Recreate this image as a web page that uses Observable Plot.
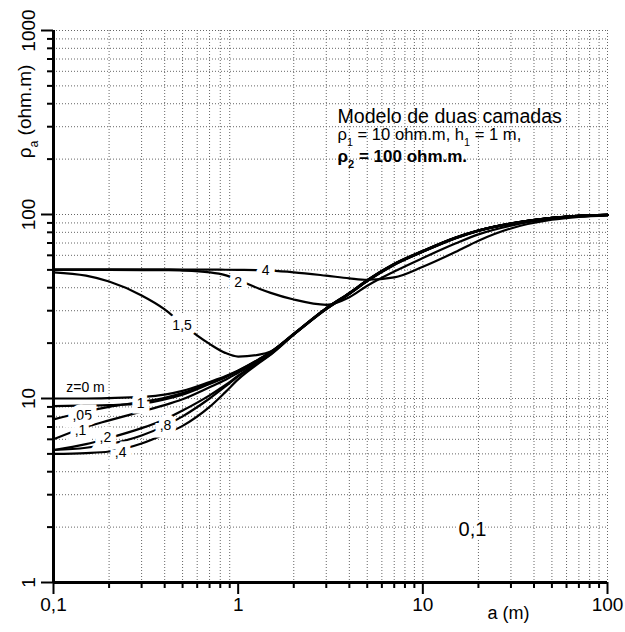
<!DOCTYPE html>
<html><head><meta charset="utf-8">
<script src="https://cdn.jsdelivr.net/npm/d3@7"></script>
<script src="https://cdn.jsdelivr.net/npm/@observablehq/plot@0.6"></script>
<style>body{margin:0;background:#fff;font-family:"Liberation Sans",Arial,sans-serif}</style>
</head><body><div id="chart"></div>
<script>
// electrode spacing a (m)
const a = [0.1,0.15,0.2,0.3,0.4,0.5,0.7,0.85,1,1.3,1.5,2,3,4,5,7,10,15,20,30,50,70,100];
// apparent resistivity (ohm.m) per burial depth z
const rho_z0   = [10,10,10.05,10.2,10.5,11,12.3,13.2,14.2,16.4,17.9,22.5,31,37.5,44,54,63.5,75,82,89.5,96,98.5,99.5];
const rho_z005 = [7.7,8.5,9.0,9.6,10.1,10.7,12.1,13.1,14.1,16.3,17.9,22.4,30.9,37.4,43.9,53.8,63.3,74.8,81.9,89.4,95.9,98.4,99.5];
const rho_z01  = [6.0,7.0,7.6,8.5,9.2,9.9,11.5,12.6,13.8,16.1,17.8,22.4,30.9,37.3,43.8,53.7,63.2,74.7,81.8,89.3,95.9,98.4,99.5];
const rho_z02  = [5.25,5.65,6.1,6.9,7.7,8.6,10.4,11.8,13.3,15.9,17.6,22.3,30.8,37.2,43.7,53.6,63.0,74.5,81.7,89.2,95.8,98.4,99.5];
const rho_z04  = [5.0,5.05,5.15,5.7,6.4,7.1,9.0,10.8,12.7,15.6,17.3,22.2,30.6,37.0,43.5,53.4,62.8,74.3,81.5,89.1,95.7,98.3,99.5];
const rho_z08  = [5.25,5.4,5.65,6.3,7.1,8.0,10.0,11.6,13.2,15.8,17.4,22.3,30.7,37.1,43.6,53.5,62.9,74.4,81.6,89.1,95.7,98.3,99.5];
const rho_z1   = [9.1,9.15,9.2,9.4,9.9,10.5,12.0,13.0,14.1,16.3,17.8,22.4,30.9,37.3,43.8,53.7,63.2,74.7,81.8,89.3,95.9,98.4,99.5];
const rho_z15  = [48.5,46.5,43.2,36.3,30.5,25.3,19.8,17.7,16.9,17.3,18.0,22.3,30.6,37.0,43.4,53.2,62.7,74.2,81.4,89.0,95.6,98.3,99.5];
const rho_z2   = [50,50,50,49.9,49.8,49.6,48.5,46.8,44.0,39.5,37.5,34.5,32.3,35.5,41,49,58,69.5,78,87,94.5,97.5,99];
const rho_z4   = [50.3,50.3,50.3,50.3,50.3,50.2,50.2,50.1,50,49.8,49.5,48.5,46.5,45,44.2,45.5,52,62.5,72,84,93.6,97,99];

const curveNames = ["0","0.05","0.1","0.2","0.4","0.8","1","1.5","2","4"];
const curveValues = [rho_z0,rho_z005,rho_z01,rho_z02,rho_z04,rho_z08,rho_z1,rho_z15,rho_z2,rho_z4];

// curve labels
const labelText = ["1",",05",",1",",2",",4",",8","1,5","2","4"];
const labelA    = [0.296,0.143,0.14,0.191,0.231,0.404,0.497,1.0,1.41];
const labelRho  = [9.36,8.08,6.7,6.16,5.11,7.14,24.9,42.9,49.6];
const z0Label = "z=0 m";
const z0LabelA = 0.149, z0LabelRho = 11.5;

// axes
const xMajor = [0.1,1,10,100];
const xMajorLabels = ["0,1","1","10","100"];
const yMajor = [1,10,100,1000];
const yMajorLabels = ["1","10","100","1000"];
const mult = [2,3,4,5,6,7,8,9];
const xMinor = [0.1,1,10].flatMap(d => mult.map(m => +(d*m).toPrecision(3)));
const yMinor = [1,10,100].flatMap(d => mult.map(m => d*m));

const xAxisTitle = "a (m)";
const yAxisTitle = "ρ_a (ohm.m)";
const noteLines = ["Modelo de duas camadas", "ρ_1 = 10 ohm.m, h_1 = 1 m,", "ρ_2 = 100 ohm.m."];
const caseLabel = "0,1";

const rows = curveNames.flatMap((n, i) => a.map((x, j) => ({curve: n, a: x, rho: curveValues[i][j]})));
const labels = labelText.map((t, i) => ({text: t, a: labelA[i], rho: labelRho[i]}));
const yTickRows = yMajor.map((v, i) => ({v, t: yMajorLabels[i]}));

const grid = {stroke: "#666", strokeWidth: 1, strokeDasharray: "1,2"};

const chart = Plot.plot({
  width: 625, height: 632,
  marginLeft: 53, marginRight: 18, marginTop: 30, marginBottom: 50,
  style: {fontFamily: "'Liberation Sans', Arial, sans-serif", background: "white", overflow: "visible"},
  x: {type: "log", domain: [0.1, 100]},
  y: {type: "log", domain: [1, 1000]},
  marks: [
    Plot.ruleX(xMinor.concat([10, 100]), grid),
    Plot.ruleY(yMinor.concat([10, 100, 1000]), grid),
    Plot.line(rows, {x: "a", y: "rho", z: "curve", stroke: "black", strokeWidth: 2.2, curve: "monotone-x"}),
    Plot.text(labels, {x: "a", y: "rho", text: "text", fontSize: 14, fill: "black", stroke: "white", strokeWidth: 11, strokeLinejoin: "miter", paintOrder: "stroke"}),
    Plot.text([z0Label], {x: () => z0LabelA, y: () => z0LabelRho, fontSize: 14, fill: "black"}),
    Plot.axisX({ticks: xMinor, tickSize: 6, tickFormat: () => "", strokeWidth: 2, label: null}),
    Plot.axisX({ticks: xMajor, tickSize: 12, tickFormat: d => xMajorLabels[xMajor.indexOf(d)], strokeWidth: 2, fontSize: 19, tickPadding: 3, label: null}),
    Plot.axisY({ticks: yMinor, tickSize: 6, tickFormat: () => "", strokeWidth: 2, label: null}),
    Plot.axisY({ticks: yMajor, tickSize: 12, tickFormat: () => "", strokeWidth: 2, label: null}),
    Plot.text(yTickRows, {x: () => 0.1, y: "v", text: "t", rotate: -90, dx: -25, fontSize: 19, textAnchor: "middle", lineAnchor: "middle"}),
    Plot.ruleX([0.1], {stroke: "black", strokeWidth: 3}),
    Plot.ruleY([1], {stroke: "black", strokeWidth: 3}),
    Plot.text([yAxisTitle], {frameAnchor: "top-left", dx: -29, dy: 81, rotate: -90, fontSize: 19, textAnchor: "middle", lineAnchor: "middle"}),
    Plot.text([xAxisTitle], {frameAnchor: "top-left", dx: 455, dy: 583, fontSize: 18, textAnchor: "middle", lineAnchor: "middle"}),
    Plot.text([noteLines[0]], {frameAnchor: "top-left", dx: 284, dy: 92, fontSize: 19.6, textAnchor: "start", lineAnchor: "bottom"}),
    Plot.text([noteLines[1]], {frameAnchor: "top-left", dx: 284, dy: 109.5, fontSize: 16.6, textAnchor: "start", lineAnchor: "bottom"}),
    Plot.text([noteLines[2]], {frameAnchor: "top-left", dx: 284, dy: 131.5, fontSize: 17, fontWeight: "bold", textAnchor: "start", lineAnchor: "bottom"}),
    Plot.text([caseLabel], {frameAnchor: "top-left", dx: 419, dy: 499, fontSize: 20, textAnchor: "middle", lineAnchor: "middle", stroke: "white", strokeWidth: 6, paintOrder: "stroke", fill: "black"})
  ]
});

// subscripts: "_x" -> subscript x
d3.select(chart).selectAll("text").each(function () {
  const t = this.textContent;
  if (!t || !t.includes("_")) return;
  const parts = t.split(/_(.)/);
  this.textContent = "";
  parts.forEach((p, i) => {
    if (!p) return;
    const ts = d3.select(this).append("tspan").text(p);
    if (i % 2 === 1) ts.attr("baseline-shift", "sub").attr("font-size", "0.65em");
  });
});

document.getElementById("chart").appendChild(chart);
</script>
</body></html>
